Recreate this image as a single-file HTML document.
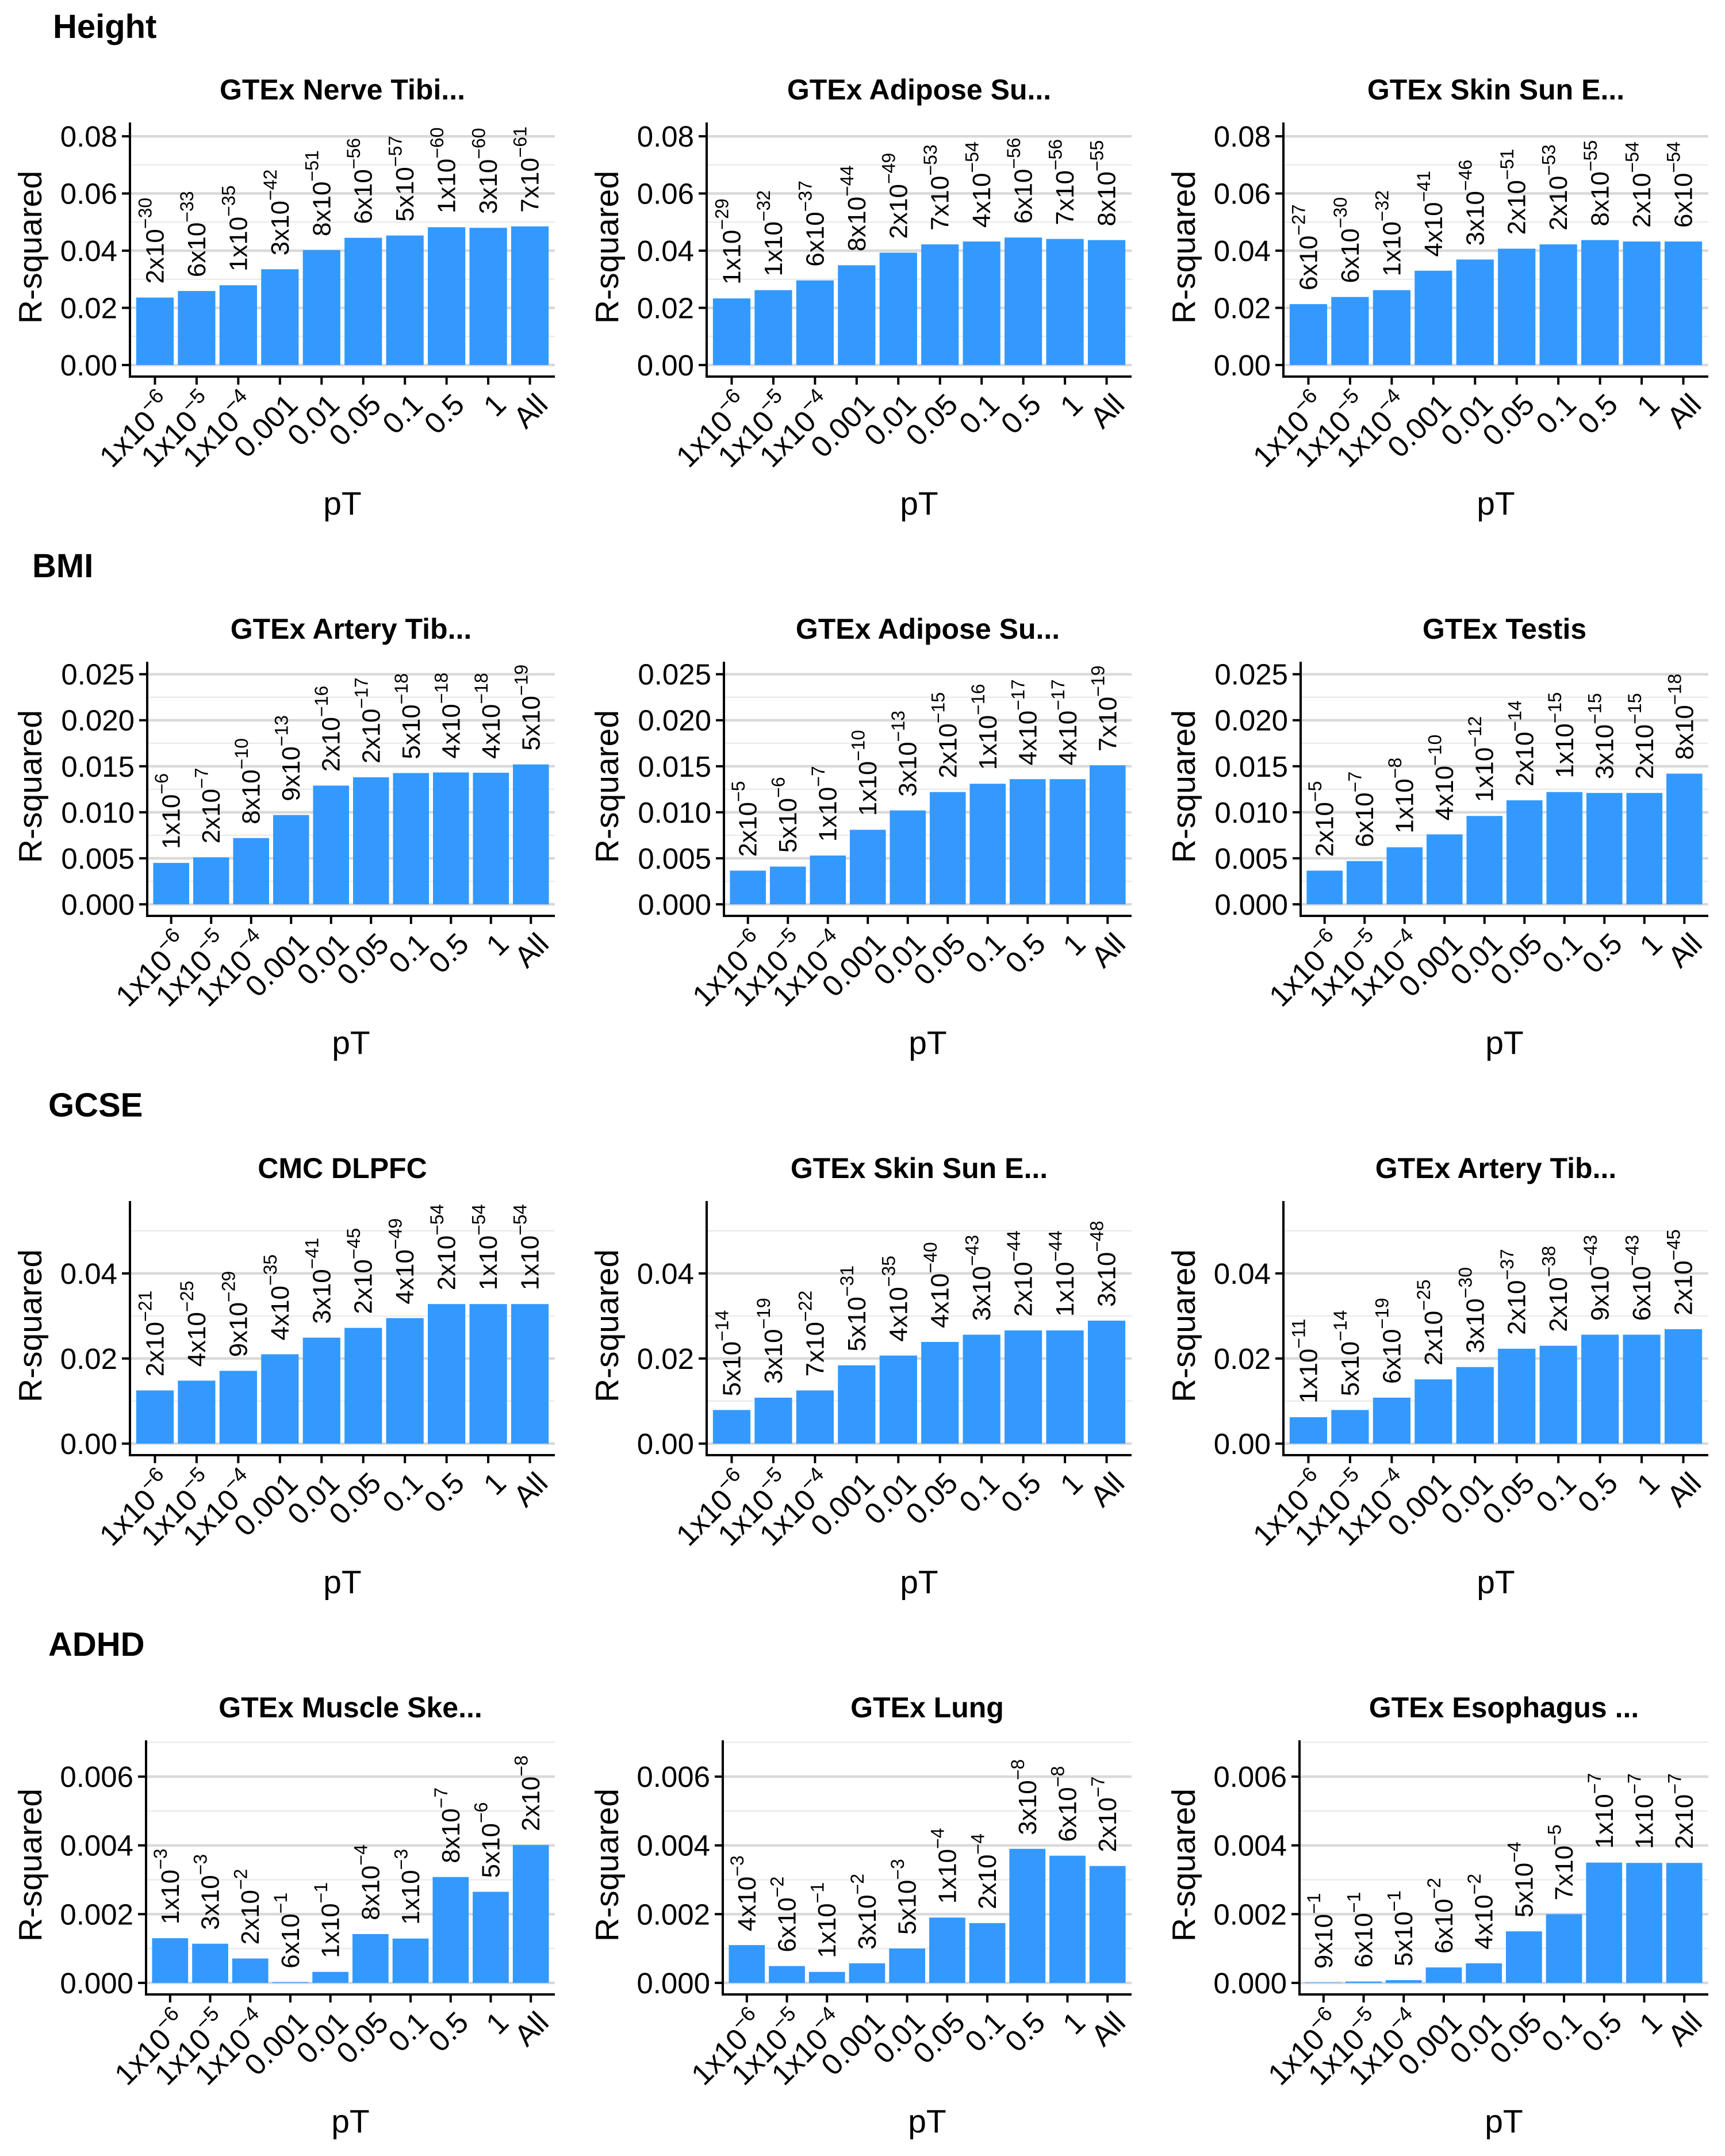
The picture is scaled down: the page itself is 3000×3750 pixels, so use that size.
<!DOCTYPE html>
<html><head><meta charset="utf-8"><style>
html,body{margin:0;padding:0;background:#fff;}
svg{display:block;font-family:"Liberation Sans",Arial,sans-serif;}
</style></head><body>
<svg id="fig" width="3000" height="3750" viewBox="0 0 3000 3750" xmlns="http://www.w3.org/2000/svg"></svg>
<script>
const categories = ["1x10^-6","1x10^-5","1x10^-4","0.001","0.01","0.05","0.1","0.5","1","All"];
const sectionTitles = ["Height","BMI","GCSE","ADHD"];
const panelTitles = [
  ["GTEx Nerve Tibi...","GTEx Adipose Su...","GTEx Skin Sun E..."],
  ["GTEx Artery Tib...","GTEx Adipose Su...","GTEx Testis"],
  ["CMC DLPFC","GTEx Skin Sun E...","GTEx Artery Tib..."],
  ["GTEx Muscle Ske...","GTEx Lung","GTEx Esophagus ..."]
];
const yTicksHeight = [0,0.02,0.04,0.06,0.08];
const yTicksBMI = [0,0.005,0.010,0.015,0.020,0.025];
const yTicksGCSE = [0,0.02,0.04];
const yTicksADHD = [0,0.002,0.004,0.006];
const yTickLabelsHeight = ["0.00","0.02","0.04","0.06","0.08"];
const yTickLabelsBMI = ["0.000","0.005","0.010","0.015","0.020","0.025"];
const yTickLabelsGCSE = ["0.00","0.02","0.04"];
const yTickLabelsADHD = ["0.000","0.002","0.004","0.006"];
const yMaxHeight = 0.0808, yMaxBMI = 0.0251, yMaxGCSE = 0.0543, yMaxADHD = 0.00672;

const heightNerveValues = [0.0236,0.0259,0.0279,0.0335,0.0402,0.0445,0.0453,0.0482,0.0480,0.0485];
const heightNerveP = ["2x10^-30","6x10^-33","1x10^-35","3x10^-42","8x10^-51","6x10^-56","5x10^-57","1x10^-60","3x10^-60","7x10^-61"];
const heightAdiposeValues = [0.0233,0.0262,0.0296,0.0349,0.0393,0.0422,0.0432,0.0446,0.0441,0.0437];
const heightAdiposeP = ["1x10^-29","1x10^-32","6x10^-37","8x10^-44","2x10^-49","7x10^-53","4x10^-54","6x10^-56","7x10^-56","8x10^-55"];
const heightSkinValues = [0.0213,0.0238,0.0262,0.0330,0.0369,0.0407,0.0422,0.0437,0.0432,0.0432];
const heightSkinP = ["6x10^-27","6x10^-30","1x10^-32","4x10^-41","3x10^-46","2x10^-51","2x10^-53","8x10^-55","2x10^-54","6x10^-54"];
const bmiArteryValues = [0.0045,0.0051,0.0072,0.0097,0.0129,0.0138,0.01426,0.01433,0.0143,0.0152];
const bmiArteryP = ["1x10^-6","2x10^-7","8x10^-10","9x10^-13","2x10^-16","2x10^-17","5x10^-18","4x10^-18","4x10^-18","5x10^-19"];
const bmiAdiposeValues = [0.00366,0.0041,0.0053,0.0081,0.0102,0.0122,0.0131,0.0136,0.0136,0.0151];
const bmiAdiposeP = ["2x10^-5","5x10^-6","1x10^-7","1x10^-10","3x10^-13","2x10^-15","1x10^-16","4x10^-17","4x10^-17","7x10^-19"];
const bmiTestisValues = [0.00366,0.0047,0.0062,0.0076,0.0096,0.0113,0.0122,0.0121,0.0121,0.0142];
const bmiTestisP = ["2x10^-5","6x10^-7","1x10^-8","4x10^-10","1x10^-12","2x10^-14","1x10^-15","3x10^-15","2x10^-15","8x10^-18"];
const gcseCmcValues = [0.0125,0.0148,0.0171,0.0210,0.0249,0.0272,0.0295,0.0328,0.0328,0.0328];
const gcseCmcP = ["2x10^-21","4x10^-25","9x10^-29","4x10^-35","3x10^-41","2x10^-45","4x10^-49","2x10^-54","1x10^-54","1x10^-54"];
const gcseSkinValues = [0.0079,0.0108,0.0125,0.0184,0.0207,0.0239,0.0256,0.0266,0.0266,0.0289];
const gcseSkinP = ["5x10^-14","3x10^-19","7x10^-22","5x10^-31","4x10^-35","4x10^-40","3x10^-43","2x10^-44","1x10^-44","3x10^-48"];
const gcseArteryValues = [0.0062,0.0079,0.0108,0.0151,0.0180,0.0223,0.0230,0.0256,0.0256,0.0269];
const gcseArteryP = ["1x10^-11","5x10^-14","6x10^-19","2x10^-25","3x10^-30","2x10^-37","2x10^-38","9x10^-43","6x10^-43","2x10^-45"];
const adhdMuscleValues = [0.0013,0.00114,0.00071,0.00002,0.00032,0.00142,0.00129,0.00308,0.00265,0.00401];
const adhdMuscleP = ["1x10^-3","3x10^-3","2x10^-2","6x10^-1","1x10^-1","8x10^-4","1x10^-3","8x10^-7","5x10^-6","2x10^-8"];
const adhdLungValues = [0.0011,0.00049,0.00032,0.00057,0.0010,0.0019,0.00174,0.0039,0.0037,0.0034];
const adhdLungP = ["4x10^-3","6x10^-2","1x10^-1","3x10^-2","5x10^-3","1x10^-4","2x10^-4","3x10^-8","6x10^-8","2x10^-7"];
const adhdEsoValues = [0.00001,0.00004,0.00008,0.00045,0.00057,0.0015,0.0020,0.0035,0.00349,0.00349];
const adhdEsoP = ["9x10^-1","6x10^-1","5x10^-1","6x10^-2","4x10^-2","5x10^-4","7x10^-5","1x10^-7","1x10^-7","2x10^-7"];

const NS = "http://www.w3.org/2000/svg";
const svg = document.getElementById("fig");
function mk(tag, attrs, parent){
  const e = document.createElementNS(NS, tag);
  for (const k in attrs) e.setAttribute(k, attrs[k]);
  (parent||svg).appendChild(e);
  return e;
}
function slug(s){return s.toLowerCase().replace(/[^a-z0-9]+/g,'-').replace(/^-|-$/g,'');}
function fillSup(t, label, size){
  const m = label.split("^");
  const a = document.createElementNS(NS,"tspan"); a.textContent = m[0]; t.appendChild(a);
  if (m.length>1){
    const b = document.createElementNS(NS,"tspan");
    b.setAttribute("font-size", size);
    b.setAttribute("dy", -size*0.65);
    b.textContent = m[1].replace("-","\u2212");
    t.appendChild(b);
  }
}

const rows = [
  {ticks:yTicksHeight, tl:yTickLabelsHeight, M:yMaxHeight, left:226, vals:[heightNerveValues,heightAdiposeValues,heightSkinValues], ps:[heightNerveP,heightAdiposeP,heightSkinP], tx:92},
  {ticks:yTicksBMI, tl:yTickLabelsBMI, M:yMaxBMI, left:256, vals:[bmiArteryValues,bmiAdiposeValues,bmiTestisValues], ps:[bmiArteryP,bmiAdiposeP,bmiTestisP], tx:56},
  {ticks:yTicksGCSE, tl:yTickLabelsGCSE, M:yMaxGCSE, left:226, vals:[gcseCmcValues,gcseSkinValues,gcseArteryValues], ps:[gcseCmcP,gcseSkinP,gcseArteryP], tx:84},
  {ticks:yTicksADHD, tl:yTickLabelsADHD, M:yMaxADHD, left:254, vals:[adhdMuscleValues,adhdLungValues,adhdEsoValues], ps:[adhdMuscleP,adhdLungP,adhdEsoP], tx:84}
];
const ROWH = 938, COLW = 1003;
const PTOP = 213, PBOT = 655, PRIGHT = 965;

rows.forEach((row, r) => {
  const oy = r*ROWH;
  const st = mk("text",{x:row.tx, y:oy+66, "font-size":58, "font-weight":"bold", fill:"#000"});
  st.textContent = sectionTitles[r];
  
  
  for (let c=0;c<3;c++){
    const ox = c*COLW;
    const L = ox+row.left, R = ox+PRIGHT, T = oy+PTOP, B = oy+PBOT;
    const dmin = -0.05*row.M, dmax = 1.05*row.M;
    const y = v => B - (v-dmin)/(dmax-dmin)*(B-T);
    const n = categories.length;
    const unit = (R-L)/(n+0.2);
    const xc = i => L + unit*(0.6+i);
    const g = mk("g",{});
    
    
    for (let k=0;k<row.ticks.length;k++){
      const step = row.ticks[1]-row.ticks[0];
      const mv = row.ticks[k]+step/2;
      if (y(mv) >= T-1){
        const ml = mk("line",{x1:L,x2:R,y1:y(mv),y2:y(mv),stroke:"#ebebeb","stroke-width":2.5},g);
        
        
      }
    }
    row.ticks.forEach((tv,k)=>{
      const gl = mk("line",{x1:L,x2:R,y1:y(tv),y2:y(tv),stroke:"#d9d9d9","stroke-width":4.5},g);
      
      
      const tk = mk("line",{x1:L-14,x2:L,y1:y(tv),y2:y(tv),stroke:"#000","stroke-width":4},g);
      
      
      const tl = mk("text",{x:L-22,y:y(tv)+18,"font-size":51,"text-anchor":"end",fill:"#000"},g);
      tl.textContent = row.tl[k];
      
      
    });
    const vals = row.vals[c], ps = row.ps[c];
    vals.forEach((v,i)=>{
      const bw = unit*0.9;
      const bar = mk("rect",{x:xc(i)-bw/2,y:y(v),width:bw,height:Math.max(0.5,y(0)-y(v)),fill:"#3399ff"},g);
      
      
      const lx = xc(i)+15, ly = y(v)-24;
      const t = mk("text",{x:0,y:0,transform:`translate(${lx},${ly}) rotate(-90)`,"font-size":44,fill:"#000"},g);
      fillSup(t, ps[i], 32);
      
      
      const xt = mk("line",{x1:xc(i),x2:xc(i),y1:B,y2:B+14,stroke:"#000","stroke-width":4},g);
      
      
      const xl = mk("text",{x:0,y:0,transform:`translate(${xc(i)+34},${B+52}) rotate(-45)`,"font-size":52,"text-anchor":"end",fill:"#000"},g);
      fillSup(xl, categories[i], 36);
      
      
    });
    const ax = mk("path",{d:`M${L},${T} L${L},${B} L${R},${B}`,fill:"none",stroke:"#000","stroke-width":4},g);
    
    
    const pt = mk("text",{x:(L+R)/2,y:oy+173,"font-size":50,"font-weight":"bold","text-anchor":"middle",fill:"#000"},g);
    pt.textContent = panelTitles[r][c];
    
    
    const yt = mk("text",{x:0,y:0,transform:`translate(${ox+72},${oy+430}) rotate(-90)`,"font-size":57,"text-anchor":"middle",fill:"#000"},g);
    yt.textContent = "R-squared";
    
    
    const xtt = mk("text",{x:(L+R)/2,y:oy+895,"font-size":57,"text-anchor":"middle",fill:"#000"},g);
    xtt.textContent = "pT";
    
    
  }
});
</script>
</body></html>
